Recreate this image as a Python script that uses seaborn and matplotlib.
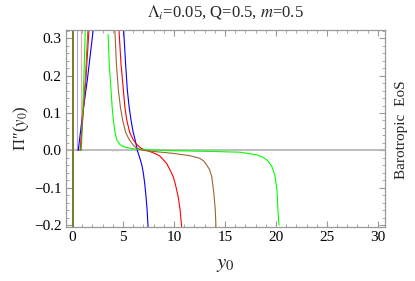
import matplotlib
matplotlib.use("Agg")
import matplotlib.pyplot as plt
from matplotlib.ticker import MultipleLocator, FixedLocator
import seaborn as sns
import pandas as pd

sns.set_theme(style="white")
plt.rcParams['font.family'] = ['Liberation Serif', 'DejaVu Serif']
plt.rcParams['mathtext.fontset'] = 'stix'

# ---- data ----
curve_names = ["blue", "red", "green", "brown"]
curve_colors = ["#0000ff", "#ff0000", "#00ff00", "#996633"]

# right branch of each curve (decreasing from the top)
blue_x = [5.04, 5.25, 5.42, 5.60, 5.78, 5.98, 6.18, 6.40, 6.67, 6.85, 6.99, 7.12, 7.25, 7.36, 7.46]
blue_y = [0.33, 0.23, 0.161, 0.115, 0.081, 0.05, 0.028, 0.0, -0.023, -0.040, -0.061, -0.088, -0.123, -0.16, -0.21]

red_x = [4.58, 4.80, 5.03, 5.18, 5.36, 5.65, 6.0, 6.4, 6.8, 7.5, 8.1, 8.6, 8.95, 9.3, 9.6, 9.9, 10.1, 10.4, 10.6, 10.76]
red_y = [0.33, 0.23, 0.161, 0.115, 0.081, 0.048, 0.028, 0.014, 0.005, -0.002, -0.008, -0.015, -0.025, -0.036, -0.052, -0.069, -0.087, -0.123, -0.16, -0.21]

brown_x = [4.18, 4.35, 4.54, 4.74, 4.96, 5.25, 5.62, 6.0, 6.3, 7.0, 7.6, 8.8, 9.9, 11.5, 12.5, 12.9, 13.2, 13.5, 13.7, 13.9, 14.05, 14.12]
brown_y = [0.33, 0.23, 0.161, 0.115, 0.081, 0.048, 0.028, 0.014, 0.006, 0.0, -0.002, -0.005, -0.008, -0.014, -0.021, -0.028, -0.039, -0.052, -0.07, -0.113, -0.16, -0.21]

green_x = [3.53, 3.65, 3.82, 3.93, 4.05, 4.2, 4.38, 4.7, 5.2, 6.0, 7.0, 10.0, 14.0, 16.5, 18.1, 18.7, 19.2, 19.6, 19.9, 20.1, 20.2, 20.3]
green_y = [0.31, 0.225, 0.161, 0.115, 0.081, 0.05, 0.028, 0.015, 0.0085, 0.004, 0.002, -0.001, -0.003, -0.005, -0.012, -0.018, -0.028, -0.043, -0.068, -0.105, -0.163, -0.2]

# left branch (rising from zero near the origin)
rise_x = {"blue": [0.60, 1.0, 1.5, 2.1], "red": [0.78, 1.05, 1.35, 1.67],
          "brown": [0.84, 1.05, 1.3, 1.56], "green": [0.90, 1.02, 1.15, 1.30]}
rise_y = [0.0, 0.09, 0.19, 0.33]

# vertical jumps (asymptote connectors)
pole_x = 0.05
jump_x = {"blue": 0.52, "red": 0.90}

right_x = {"blue": blue_x, "red": red_x, "brown": brown_x, "green": green_x}
right_y = {"blue": blue_y, "red": red_y, "brown": brown_y, "green": green_y}

x_ticks = [0, 5, 10, 15, 20, 25, 30]
y_ticks = [-0.2, -0.1, 0.0, 0.1, 0.2, 0.3]
y_tick_labels = ["\u22120.2", "\u22120.1", "0.0", "0.1", "0.2", "0.3"]

# ---- figure ----
fig = plt.figure(figsize=(4.15, 2.81), dpi=100)
ax = fig.add_axes([66/415, 1-227/281, (385-66)/415, (227-30)/281])

ax.axhline(0, color="#b3b3b3", lw=1.2, zorder=1)

lw = 0.8
for name, col in zip(curve_names, curve_colors):
    df = pd.DataFrame({"x": right_x[name], "y": right_y[name]})
    sns.lineplot(data=df, x="x", y="y", sort=False, estimator=None, color=col, lw=lw, ax=ax)
    df = pd.DataFrame({"x": rise_x[name], "y": rise_y})
    sns.lineplot(data=df, x="x", y="y", sort=False, estimator=None, color=col, lw=lw, ax=ax)
    if name in jump_x:
        df = pd.DataFrame({"x": [jump_x[name], jump_x[name]], "y": [0.0, 0.33]})
        sns.lineplot(data=df, x="x", y="y", sort=False, estimator=None, color=col, lw=lw, alpha=0.35, ax=ax)

for name, col in zip(curve_names, curve_colors):
    df = pd.DataFrame({"x": [pole_x, pole_x], "y": [-0.21, 0.33]})
    sns.lineplot(data=df, x="x", y="y", sort=False, estimator=None, color=col, lw=1.3,
                 alpha=0.75, ax=ax)

ax.set_xlim(-0.6, 30.7)
ax.set_ylim(-0.205, 0.322)

ax.xaxis.set_major_locator(FixedLocator(x_ticks))
ax.xaxis.set_minor_locator(MultipleLocator(1))
ax.yaxis.set_major_locator(FixedLocator(y_ticks))
ax.set_yticklabels(y_tick_labels)
ax.yaxis.set_minor_locator(MultipleLocator(0.02))
ax.tick_params(which="both", direction="in", top=True, right=True, bottom=True, left=True,
               color="#999999", labelsize=11, labelcolor="black", pad=3)
ax.tick_params(which="major", length=4, width=0.8)
ax.tick_params(which="minor", length=2, width=0.6)
for s in ax.spines.values():
    s.set_color("#999999")
    s.set_linewidth(0.9)

ax.set_xlabel(r"$y_0$", fontsize=15, labelpad=8)
ax.set_ylabel("\u03a0\u2032\u2032($y_0$)", fontsize=12, labelpad=2)
fig.text(225/415, 1-12/281, r"$\Lambda_i$=0.05, Q=0.5, $m$=0.5", ha="center", va="center", fontsize=12)
fig.text(401/415, 1-130/281, "Barotropic  EoS", rotation=90, ha="center", va="center", fontsize=11)

fig.savefig("out.png", dpi=100)
